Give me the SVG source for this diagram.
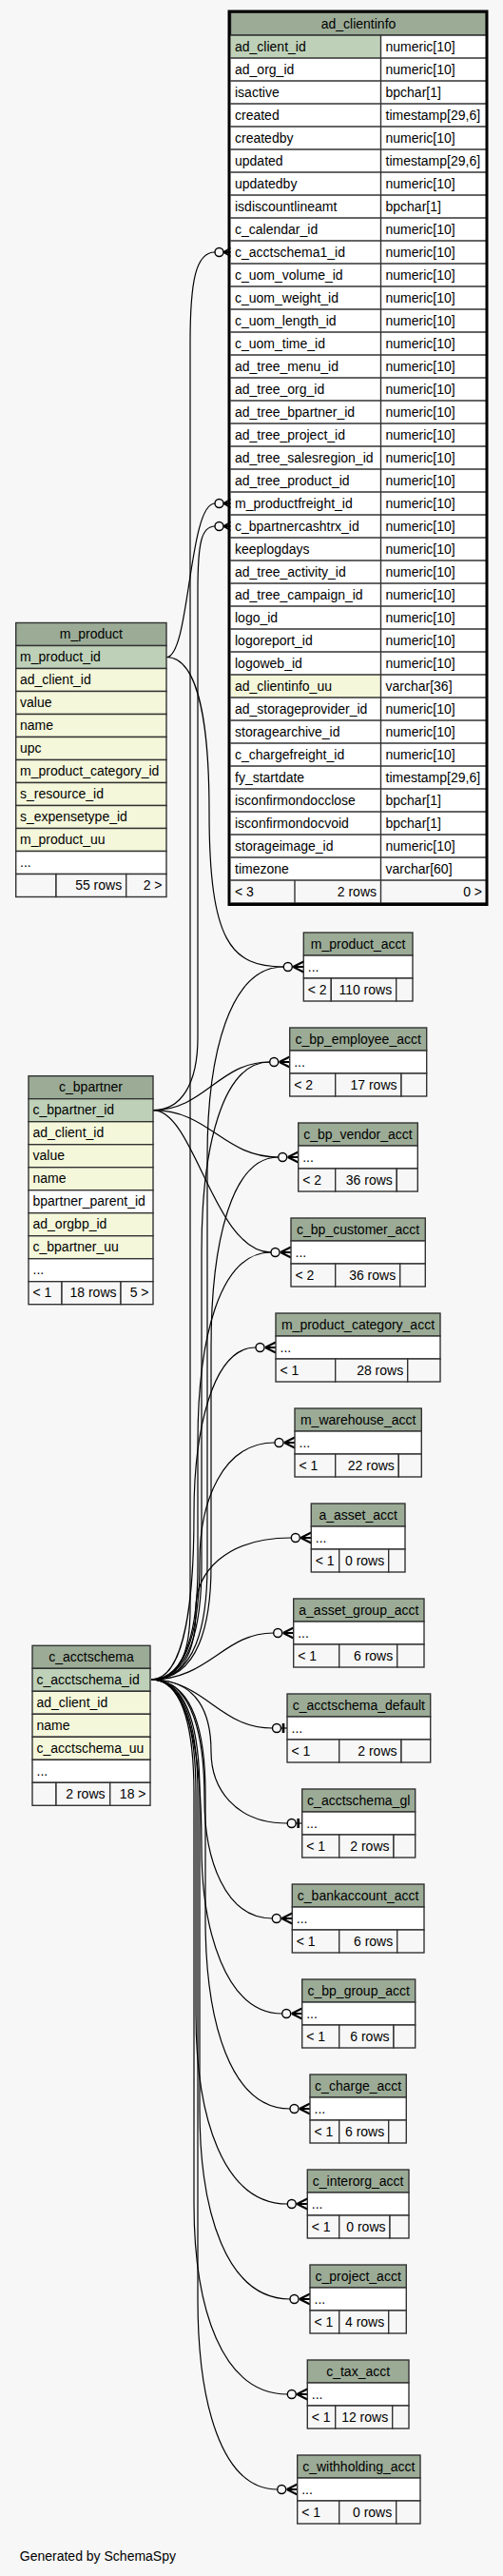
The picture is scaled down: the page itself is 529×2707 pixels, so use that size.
<svg xmlns="http://www.w3.org/2000/svg" xmlns:xlink="http://www.w3.org/1999/xlink" width="529" height="2707" viewBox="0 0 529 2707">
<style>
text{font-family:"Liberation Sans",Arial,Helvetica,sans-serif;font-size:14px;fill:#000}
.c{text-anchor:middle}
.r{text-anchor:end}
.h{fill:#9bab96;stroke:#333;stroke-width:1.4}
.pk{fill:#bed1b8;stroke:#333;stroke-width:1.4}
.ix{fill:#f4f7da;stroke:#333;stroke-width:1.4}
.w{fill:#fff;stroke:#333;stroke-width:1.4}
.f{fill:#f7f7f7;stroke:#333;stroke-width:1.4}
.ln{fill:none;stroke:#333;stroke-width:1.4}
.e{fill:none;stroke:#000;stroke-width:1.2}
</style>
<defs>
<g id="many"><path d="M-11,0L0,-5.5M-11,0L0,0M-11,0L0,5.5" fill="none" stroke="#000" stroke-width="2"/><circle cx="-16.5" cy="0" r="4.5" fill="#f7f7f7" stroke="#000" stroke-width="1.4"/></g>
<g id="many2"><path d="M-9,0L0,-5M-9,0L0,0M-9,0L0,5" fill="none" stroke="#000" stroke-width="2"/><circle cx="-13.5" cy="0" r="4.5" fill="#f7f7f7" stroke="#000" stroke-width="1.4"/></g>
<g id="one"><path d="M-6.5,0H0" fill="none" stroke="#000" stroke-width="1.2"/><path d="M-4,-5V5" fill="none" stroke="#000" stroke-width="2.6"/><circle cx="-11" cy="0" r="4.5" fill="#f7f7f7" stroke="#000" stroke-width="1.4"/></g>
</defs>
<rect x="0" y="0" width="529" height="2707" fill="#f7f7f7"/>

<g id="connectors">
<path class="e" d="M175,690.5 C200,690.5 198,529 226,529"/>
<path class="e" d="M175,690.5 C211,690.5 220,771.8 220,853 C220,990 243,1016 298.3,1016"/>
<path class="e" d="M161,1166.7 C190,1166.7 208,1140 208,1090 L208,620 C208,570 212,553 226,553"/>
<path class="e" d="M161,1166.7 C215,1166.7 230,1116 283.7,1116"/>
<path class="e" d="M161,1166.7 C220,1166.7 235,1216 292.7,1216"/>
<path class="e" d="M161,1166.7 C205,1166.7 225,1316 285,1316"/>
<path class="e" d="M159,1765 C190,1765 200,1735 200,1690 L200,360 C200,295 206,265 226,265"/>
<path class="e" d="M159,1765 C206.2,1765 218,1705 218,1645 L218,1216 C218,1106 242.1,1016 298.3,1016"/>
<path class="e" d="M159,1765 C201.4,1765 212,1705 212,1645 L212,1316 C212,1206 233.5,1116 283.7,1116"/>
<path class="e" d="M159,1765 C209.4,1765 222,1705 222,1645 L222,1416 C222,1306 243.2,1216 292.7,1216"/>
<path class="e" d="M159,1765 C198.2,1765 208,1705 208,1645 L208,1516 C208,1406 231.1,1316 285,1316"/>
<path class="e" d="M159,1765 C195,1765 204,1677.8 204,1590.5 C204,1503.3 223.5,1416 269,1416"/>
<path class="e" d="M159,1765 C199.8,1765 210,1702.8 210,1640.5 C210,1578.3 233.7,1516 289,1516"/>
<path class="e" d="M159,1765 C196.6,1765 206,1727.8 206,1690.5 C206,1653.3 236.1,1616 306.3,1616"/>
<path class="e" d="M159,1765 C220,1765 235,1716 287.7,1716"/>
<path class="e" d="M159,1765 C215,1765 230,1816 286.5,1816"/>
<path class="e" d="M159,1765 C209.4,1765 222,1802.8 222,1840.5 C222,1878.3 246.1,1916 302.2,1916"/>
<path class="e" d="M159,1765 C203.8,1765 215,1827.8 215,1890.5 C215,1953.3 236.4,2016 286.3,2016"/>
<path class="e" d="M159,1765 C201.4,1765 212,1852.8 212,1940.5 C212,2028.3 237.4,2116 296.7,2116"/>
<path class="e" d="M159,1765 C204.6,1765 216,1825 216,1885 L216,2016 C216,2126 242.7,2216 305,2216"/>
<path class="e" d="M159,1765 C196.6,1765 206,1825 206,1885 L206,2116 C206,2226 234.9,2316 302.3,2316"/>
<path class="e" d="M159,1765 C199.8,1765 210,1825 210,1885 L210,2216 C210,2326 238.5,2416 305,2416"/>
<path class="e" d="M159,1765 C195,1765 204,1825 204,1885 L204,2316 C204,2426 233.5,2516 302.3,2516"/>
<path class="e" d="M159,1765 C198.2,1765 208,1825 208,1885 L208,2416 C208,2526 233.1,2616 291.7,2616"/>
<use xlink:href="#many2" x="244" y="265"/>
<use xlink:href="#many2" x="244" y="529"/>
<use xlink:href="#many2" x="244" y="553"/>
<use xlink:href="#many" x="319.3" y="1016"/>
<use xlink:href="#many" x="304.7" y="1116"/>
<use xlink:href="#many" x="313.7" y="1216"/>
<use xlink:href="#many" x="306" y="1316"/>
<use xlink:href="#many" x="290" y="1416"/>
<use xlink:href="#many" x="310" y="1516"/>
<use xlink:href="#many" x="327.3" y="1616"/>
<use xlink:href="#many" x="308.7" y="1716"/>
<use xlink:href="#one" x="302" y="1816"/>
<use xlink:href="#one" x="317.7" y="1916"/>
<use xlink:href="#many" x="307.3" y="2016"/>
<use xlink:href="#many" x="317.7" y="2116"/>
<use xlink:href="#many" x="326" y="2216"/>
<use xlink:href="#many" x="323.3" y="2316"/>
<use xlink:href="#many" x="326" y="2416"/>
<use xlink:href="#many" x="323.3" y="2516"/>
<use xlink:href="#many" x="312.7" y="2616"/>
</g>

<g id="ad_clientinfo">
<rect class="h" x="242.5" y="13" width="269" height="24"/>
<rect x="242.5" y="37" width="269" height="888" fill="#fff"/>
<rect x="242.5" y="37" width="158" height="24" fill="#bed1b8"/>
<rect x="242.5" y="709" width="158" height="24" fill="#f4f7da"/>
<path class="ln" d="M242.5,37H511.5M242.5,61H511.5M242.5,85H511.5M242.5,109H511.5M242.5,133H511.5M242.5,157H511.5M242.5,181H511.5M242.5,205H511.5M242.5,229H511.5M242.5,253H511.5M242.5,277H511.5M242.5,301H511.5M242.5,325H511.5M242.5,349H511.5M242.5,373H511.5M242.5,397H511.5M242.5,421H511.5M242.5,445H511.5M242.5,469H511.5M242.5,493H511.5M242.5,517H511.5M242.5,541H511.5M242.5,565H511.5M242.5,589H511.5M242.5,613H511.5M242.5,637H511.5M242.5,661H511.5M242.5,685H511.5M242.5,709H511.5M242.5,733H511.5M242.5,757H511.5M242.5,781H511.5M242.5,805H511.5M242.5,829H511.5M242.5,853H511.5M242.5,877H511.5M242.5,901H511.5M242.5,925H511.5M242.5,949H511.5M400.5,37V949M310,925V949"/>
<rect x="241" y="12" width="271" height="938.5" fill="none" stroke="#000" stroke-width="3"/>
<text class="c" x="377" y="29.5">ad_clientinfo</text>
<text x="247" y="53.5">ad_client_id</text><text x="405.5" y="53.5">numeric[10]</text>
<text x="247" y="77.5">ad_org_id</text><text x="405.5" y="77.5">numeric[10]</text>
<text x="247" y="101.5">isactive</text><text x="405.5" y="101.5">bpchar[1]</text>
<text x="247" y="125.5">created</text><text x="405.5" y="125.5">timestamp[29,6]</text>
<text x="247" y="149.5">createdby</text><text x="405.5" y="149.5">numeric[10]</text>
<text x="247" y="173.5">updated</text><text x="405.5" y="173.5">timestamp[29,6]</text>
<text x="247" y="197.5">updatedby</text><text x="405.5" y="197.5">numeric[10]</text>
<text x="247" y="221.5">isdiscountlineamt</text><text x="405.5" y="221.5">bpchar[1]</text>
<text x="247" y="245.5">c_calendar_id</text><text x="405.5" y="245.5">numeric[10]</text>
<text x="247" y="269.5">c_acctschema1_id</text><text x="405.5" y="269.5">numeric[10]</text>
<text x="247" y="293.5">c_uom_volume_id</text><text x="405.5" y="293.5">numeric[10]</text>
<text x="247" y="317.5">c_uom_weight_id</text><text x="405.5" y="317.5">numeric[10]</text>
<text x="247" y="341.5">c_uom_length_id</text><text x="405.5" y="341.5">numeric[10]</text>
<text x="247" y="365.5">c_uom_time_id</text><text x="405.5" y="365.5">numeric[10]</text>
<text x="247" y="389.5">ad_tree_menu_id</text><text x="405.5" y="389.5">numeric[10]</text>
<text x="247" y="413.5">ad_tree_org_id</text><text x="405.5" y="413.5">numeric[10]</text>
<text x="247" y="437.5">ad_tree_bpartner_id</text><text x="405.5" y="437.5">numeric[10]</text>
<text x="247" y="461.5">ad_tree_project_id</text><text x="405.5" y="461.5">numeric[10]</text>
<text x="247" y="485.5">ad_tree_salesregion_id</text><text x="405.5" y="485.5">numeric[10]</text>
<text x="247" y="509.5">ad_tree_product_id</text><text x="405.5" y="509.5">numeric[10]</text>
<text x="247" y="533.5">m_productfreight_id</text><text x="405.5" y="533.5">numeric[10]</text>
<text x="247" y="557.5">c_bpartnercashtrx_id</text><text x="405.5" y="557.5">numeric[10]</text>
<text x="247" y="581.5">keeplogdays</text><text x="405.5" y="581.5">numeric[10]</text>
<text x="247" y="605.5">ad_tree_activity_id</text><text x="405.5" y="605.5">numeric[10]</text>
<text x="247" y="629.5">ad_tree_campaign_id</text><text x="405.5" y="629.5">numeric[10]</text>
<text x="247" y="653.5">logo_id</text><text x="405.5" y="653.5">numeric[10]</text>
<text x="247" y="677.5">logoreport_id</text><text x="405.5" y="677.5">numeric[10]</text>
<text x="247" y="701.5">logoweb_id</text><text x="405.5" y="701.5">numeric[10]</text>
<text x="247" y="725.5">ad_clientinfo_uu</text><text x="405.5" y="725.5">varchar[36]</text>
<text x="247" y="749.5">ad_storageprovider_id</text><text x="405.5" y="749.5">numeric[10]</text>
<text x="247" y="773.5">storagearchive_id</text><text x="405.5" y="773.5">numeric[10]</text>
<text x="247" y="797.5">c_chargefreight_id</text><text x="405.5" y="797.5">numeric[10]</text>
<text x="247" y="821.5">fy_startdate</text><text x="405.5" y="821.5">timestamp[29,6]</text>
<text x="247" y="845.5">isconfirmondocclose</text><text x="405.5" y="845.5">bpchar[1]</text>
<text x="247" y="869.5">isconfirmondocvoid</text><text x="405.5" y="869.5">bpchar[1]</text>
<text x="247" y="893.5">storageimage_id</text><text x="405.5" y="893.5">numeric[10]</text>
<text x="247" y="917.5">timezone</text><text x="405.5" y="917.5">varchar[60]</text>
<text x="247" y="941.5">&lt; 3</text><text class="r" x="396" y="941.5">2 rows</text><text class="r" x="507" y="941.5">0 &gt;</text>
</g>

<g id="m_product">
<rect class="h" x="16.7" y="654.5" width="158.3" height="24"/>
<rect class="pk" x="16.7" y="678.5" width="158.3" height="24"/>
<rect class="ix" x="16.7" y="702.5" width="158.3" height="24"/>
<rect class="ix" x="16.7" y="726.5" width="158.3" height="24"/>
<rect class="ix" x="16.7" y="750.5" width="158.3" height="24"/>
<rect class="ix" x="16.7" y="774.5" width="158.3" height="24"/>
<rect class="ix" x="16.7" y="798.5" width="158.3" height="24"/>
<rect class="ix" x="16.7" y="822.5" width="158.3" height="24"/>
<rect class="ix" x="16.7" y="846.5" width="158.3" height="24"/>
<rect class="ix" x="16.7" y="870.5" width="158.3" height="24"/>
<rect class="w" x="16.7" y="894.5" width="158.3" height="24"/>
<rect class="f" x="16.7" y="918.5" width="42.3" height="24"/>
<rect class="f" x="59" y="918.5" width="73.7" height="24"/>
<rect class="f" x="132.7" y="918.5" width="42.3" height="24"/>
<text class="c" x="95.85" y="671">m_product</text>
<text x="21" y="695">m_product_id</text>
<text x="21" y="719">ad_client_id</text>
<text x="21" y="743">value</text>
<text x="21" y="767">name</text>
<text x="21" y="791">upc</text>
<text x="21" y="815">m_product_category_id</text>
<text x="21" y="839">s_resource_id</text>
<text x="21" y="863">s_expensetype_id</text>
<text x="21" y="887">m_product_uu</text>
<text x="21" y="911">...</text>
<text class="r" x="128.2" y="935">55 rows</text>
<text class="r" x="170.5" y="935">2 &gt;</text>
</g>

<g id="c_bpartner">
<rect class="h" x="30" y="1130.7" width="131" height="24"/>
<rect class="pk" x="30" y="1154.7" width="131" height="24"/>
<rect class="ix" x="30" y="1178.7" width="131" height="24"/>
<rect class="ix" x="30" y="1202.7" width="131" height="24"/>
<rect class="ix" x="30" y="1226.7" width="131" height="24"/>
<rect class="w" x="30" y="1250.7" width="131" height="24"/>
<rect class="ix" x="30" y="1274.7" width="131" height="24"/>
<rect class="ix" x="30" y="1298.7" width="131" height="24"/>
<rect class="w" x="30" y="1322.7" width="131" height="24"/>
<rect class="f" x="30" y="1346.7" width="35" height="24"/>
<rect class="f" x="65" y="1346.7" width="62" height="24"/>
<rect class="f" x="127" y="1346.7" width="34" height="24"/>
<text class="c" x="95.5" y="1147.2">c_bpartner</text>
<text x="34.5" y="1171.2">c_bpartner_id</text>
<text x="34.5" y="1195.2">ad_client_id</text>
<text x="34.5" y="1219.2">value</text>
<text x="34.5" y="1243.2">name</text>
<text x="34.5" y="1267.2">bpartner_parent_id</text>
<text x="34.5" y="1291.2">ad_orgbp_id</text>
<text x="34.5" y="1315.2">c_bpartner_uu</text>
<text x="34.5" y="1339.2">...</text>
<text x="34.5" y="1363.2">&lt; 1</text>
<text class="r" x="122.5" y="1363.2">18 rows</text>
<text class="r" x="156.5" y="1363.2">5 &gt;</text>
</g>

<g id="c_acctschema">
<rect class="h" x="34" y="1729.3" width="124" height="24"/>
<rect class="pk" x="34" y="1753.3" width="124" height="24"/>
<rect class="ix" x="34" y="1777.3" width="124" height="24"/>
<rect class="ix" x="34" y="1801.3" width="124" height="24"/>
<rect class="ix" x="34" y="1825.3" width="124" height="24"/>
<rect class="w" x="34" y="1849.3" width="124" height="24"/>
<rect class="f" x="34" y="1873.3" width="25" height="24"/>
<rect class="f" x="59" y="1873.3" width="56.7" height="24"/>
<rect class="f" x="115.7" y="1873.3" width="42.3" height="24"/>
<text class="c" x="96" y="1745.8">c_acctschema</text>
<text x="38.5" y="1769.8">c_acctschema_id</text>
<text x="38.5" y="1793.8">ad_client_id</text>
<text x="38.5" y="1817.8">name</text>
<text x="38.5" y="1841.8">c_acctschema_uu</text>
<text x="38.5" y="1865.8">...</text>
<text class="r" x="110.5" y="1889.8">2 rows</text>
<text class="r" x="153.5" y="1889.8">18 &gt;</text>
</g>

<g id="m_product_acct">
<rect class="h" x="319.3" y="980" width="114.7" height="24"/><rect class="w" x="319.3" y="1004" width="114.7" height="24"/>
<rect class="f" x="319.3" y="1028" width="29" height="24"/><rect class="f" x="348.3" y="1028" width="68.4" height="24"/><rect class="f" x="416.7" y="1028" width="17.3" height="24"/>
<text class="c" x="376.65" y="996.5">m_product_acct</text><text x="323.8" y="1020.5">...</text>
<text x="323.8" y="1044.5">&lt; 2</text><text class="r" x="412.2" y="1044.5">110 rows</text>
</g>
<g id="c_bp_employee_acct">
<rect class="h" x="304.7" y="1080" width="144" height="24"/><rect class="w" x="304.7" y="1104" width="144" height="24"/>
<rect class="f" x="304.7" y="1128" width="48" height="24"/><rect class="f" x="352.7" y="1128" width="69.3" height="24"/><rect class="f" x="422" y="1128" width="26.7" height="24"/>
<text class="c" x="376.7" y="1096.5">c_bp_employee_acct</text><text x="309.2" y="1120.5">...</text>
<text x="309.2" y="1144.5">&lt; 2</text><text class="r" x="417.5" y="1144.5">17 rows</text>
</g>
<g id="c_bp_vendor_acct">
<rect class="h" x="313.7" y="1180" width="125.6" height="24"/><rect class="w" x="313.7" y="1204" width="125.6" height="24"/>
<rect class="f" x="313.7" y="1228" width="39" height="24"/><rect class="f" x="352.7" y="1228" width="64.6" height="24"/><rect class="f" x="417.3" y="1228" width="22" height="24"/>
<text class="c" x="376.5" y="1196.5">c_bp_vendor_acct</text><text x="318.2" y="1220.5">...</text>
<text x="318.2" y="1244.5">&lt; 2</text><text class="r" x="412.8" y="1244.5">36 rows</text>
</g>
<g id="c_bp_customer_acct">
<rect class="h" x="306" y="1280" width="141.3" height="24"/><rect class="w" x="306" y="1304" width="141.3" height="24"/>
<rect class="f" x="306" y="1328" width="46.7" height="24"/><rect class="f" x="352.7" y="1328" width="68" height="24"/><rect class="f" x="420.7" y="1328" width="26.6" height="24"/>
<text class="c" x="376.65" y="1296.5">c_bp_customer_acct</text><text x="310.5" y="1320.5">...</text>
<text x="310.5" y="1344.5">&lt; 2</text><text class="r" x="416.2" y="1344.5">36 rows</text>
</g>
<g id="m_product_category_acct">
<rect class="h" x="290" y="1380" width="173" height="24"/><rect class="w" x="290" y="1404" width="173" height="24"/>
<rect class="f" x="290" y="1428" width="62.7" height="24"/><rect class="f" x="352.7" y="1428" width="76" height="24"/><rect class="f" x="428.7" y="1428" width="34.3" height="24"/>
<text class="c" x="376.5" y="1396.5">m_product_category_acct</text><text x="294.5" y="1420.5">...</text>
<text x="294.5" y="1444.5">&lt; 1</text><text class="r" x="424.2" y="1444.5">28 rows</text>
</g>
<g id="m_warehouse_acct">
<rect class="h" x="310" y="1480" width="133.3" height="24"/><rect class="w" x="310" y="1504" width="133.3" height="24"/>
<rect class="f" x="310" y="1528" width="42.7" height="24"/><rect class="f" x="352.7" y="1528" width="66.6" height="24"/><rect class="f" x="419.3" y="1528" width="24" height="24"/>
<text class="c" x="376.65" y="1496.5">m_warehouse_acct</text><text x="314.5" y="1520.5">...</text>
<text x="314.5" y="1544.5">&lt; 1</text><text class="r" x="414.8" y="1544.5">22 rows</text>
</g>
<g id="a_asset_acct">
<rect class="h" x="327.3" y="1580" width="98.7" height="24"/><rect class="w" x="327.3" y="1604" width="98.7" height="24"/>
<rect class="f" x="327.3" y="1628" width="29.4" height="24"/><rect class="f" x="356.7" y="1628" width="52" height="24"/><rect class="f" x="408.7" y="1628" width="17.3" height="24"/>
<text class="c" x="376.65" y="1596.5">a_asset_acct</text><text x="331.8" y="1620.5">...</text>
<text x="331.8" y="1644.5">&lt; 1</text><text class="r" x="404.2" y="1644.5">0 rows</text>
</g>
<g id="a_asset_group_acct">
<rect class="h" x="308.7" y="1680" width="137.3" height="24"/><rect class="w" x="308.7" y="1704" width="137.3" height="24"/>
<rect class="f" x="308.7" y="1728" width="48" height="24"/><rect class="f" x="356.7" y="1728" width="61" height="24"/><rect class="f" x="417.7" y="1728" width="28.3" height="24"/>
<text class="c" x="377.35" y="1696.5">a_asset_group_acct</text><text x="313.2" y="1720.5">...</text>
<text x="313.2" y="1744.5">&lt; 1</text><text class="r" x="413.2" y="1744.5">6 rows</text>
</g>
<g id="c_acctschema_default">
<rect class="h" x="302" y="1780" width="150.7" height="24"/><rect class="w" x="302" y="1804" width="150.7" height="24"/>
<rect class="f" x="302" y="1828" width="54.7" height="24"/><rect class="f" x="356.7" y="1828" width="65.3" height="24"/><rect class="f" x="422" y="1828" width="30.7" height="24"/>
<text class="c" x="377.35" y="1796.5">c_acctschema_default</text><text x="306.5" y="1820.5">...</text>
<text x="306.5" y="1844.5">&lt; 1</text><text class="r" x="417.5" y="1844.5">2 rows</text>
</g>
<g id="c_acctschema_gl">
<rect class="h" x="317.7" y="1880" width="119" height="24"/><rect class="w" x="317.7" y="1904" width="119" height="24"/>
<rect class="f" x="317.7" y="1928" width="39" height="24"/><rect class="f" x="356.7" y="1928" width="57.3" height="24"/><rect class="f" x="414" y="1928" width="22.7" height="24"/>
<text class="c" x="377.2" y="1896.5">c_acctschema_gl</text><text x="322.2" y="1920.5">...</text>
<text x="322.2" y="1944.5">&lt; 1</text><text class="r" x="409.5" y="1944.5">2 rows</text>
</g>
<g id="c_bankaccount_acct">
<rect class="h" x="307.3" y="1980" width="138.7" height="24"/><rect class="w" x="307.3" y="2004" width="138.7" height="24"/>
<rect class="f" x="307.3" y="2028" width="49.4" height="24"/><rect class="f" x="356.7" y="2028" width="61" height="24"/><rect class="f" x="417.7" y="2028" width="28.3" height="24"/>
<text class="c" x="376.65" y="1996.5">c_bankaccount_acct</text><text x="311.8" y="2020.5">...</text>
<text x="311.8" y="2044.5">&lt; 1</text><text class="r" x="413.2" y="2044.5">6 rows</text>
</g>
<g id="c_bp_group_acct">
<rect class="h" x="317.7" y="2080" width="119" height="24"/><rect class="w" x="317.7" y="2104" width="119" height="24"/>
<rect class="f" x="317.7" y="2128" width="39" height="24"/><rect class="f" x="356.7" y="2128" width="57.3" height="24"/><rect class="f" x="414" y="2128" width="22.7" height="24"/>
<text class="c" x="377.2" y="2096.5">c_bp_group_acct</text><text x="322.2" y="2120.5">...</text>
<text x="322.2" y="2144.5">&lt; 1</text><text class="r" x="409.5" y="2144.5">6 rows</text>
</g>
<g id="c_charge_acct">
<rect class="h" x="326" y="2180" width="101.3" height="24"/><rect class="w" x="326" y="2204" width="101.3" height="24"/>
<rect class="f" x="326" y="2228" width="30.7" height="24"/><rect class="f" x="356.7" y="2228" width="52" height="24"/><rect class="f" x="408.7" y="2228" width="18.6" height="24"/>
<text class="c" x="376.65" y="2196.5">c_charge_acct</text><text x="330.5" y="2220.5">...</text>
<text x="330.5" y="2244.5">&lt; 1</text><text class="r" x="404.2" y="2244.5">6 rows</text>
</g>
<g id="c_interorg_acct">
<rect class="h" x="323.3" y="2280" width="106.7" height="24"/><rect class="w" x="323.3" y="2304" width="106.7" height="24"/>
<rect class="f" x="323.3" y="2328" width="33.4" height="24"/><rect class="f" x="356.7" y="2328" width="53.3" height="24"/><rect class="f" x="410" y="2328" width="20" height="24"/>
<text class="c" x="376.65" y="2296.5">c_interorg_acct</text><text x="327.8" y="2320.5">...</text>
<text x="327.8" y="2344.5">&lt; 1</text><text class="r" x="405.5" y="2344.5">0 rows</text>
</g>
<g id="c_project_acct">
<rect class="h" x="326" y="2380" width="101.3" height="24"/><rect class="w" x="326" y="2404" width="101.3" height="24"/>
<rect class="f" x="326" y="2428" width="30.7" height="24"/><rect class="f" x="356.7" y="2428" width="52" height="24"/><rect class="f" x="408.7" y="2428" width="18.6" height="24"/>
<text class="c" x="376.65" y="2396.5">c_project_acct</text><text x="330.5" y="2420.5">...</text>
<text x="330.5" y="2444.5">&lt; 1</text><text class="r" x="404.2" y="2444.5">4 rows</text>
</g>
<g id="c_tax_acct">
<rect class="h" x="323.3" y="2480" width="106.7" height="24"/><rect class="w" x="323.3" y="2504" width="106.7" height="24"/>
<rect class="f" x="323.3" y="2528" width="29.4" height="24"/><rect class="f" x="352.7" y="2528" width="60" height="24"/><rect class="f" x="412.7" y="2528" width="17.3" height="24"/>
<text class="c" x="376.65" y="2496.5">c_tax_acct</text><text x="327.8" y="2520.5">...</text>
<text x="327.8" y="2544.5">&lt; 1</text><text class="r" x="408.2" y="2544.5">12 rows</text>
</g>
<g id="c_withholding_acct">
<rect class="h" x="312.7" y="2580" width="129.3" height="24"/><rect class="w" x="312.7" y="2604" width="129.3" height="24"/>
<rect class="f" x="312.7" y="2628" width="44" height="24"/><rect class="f" x="356.7" y="2628" width="60" height="24"/><rect class="f" x="416.7" y="2628" width="25.3" height="24"/>
<text class="c" x="377.35" y="2596.5">c_withholding_acct</text><text x="317.2" y="2620.5">...</text>
<text x="317.2" y="2644.5">&lt; 1</text><text class="r" x="412.2" y="2644.5">0 rows</text>
</g>

<text class="r" x="185" y="2691">Generated by SchemaSpy</text>
</svg>
